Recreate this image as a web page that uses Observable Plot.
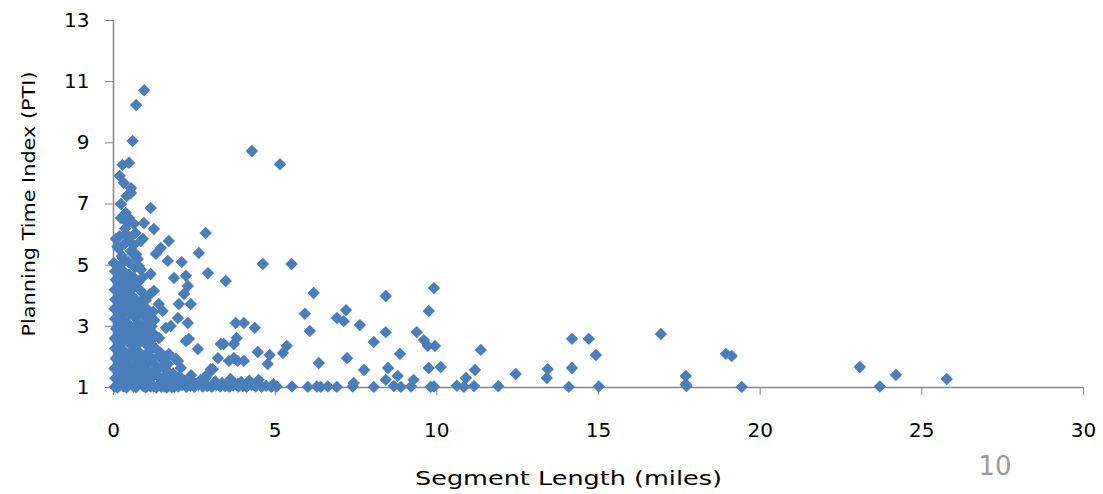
<!DOCTYPE html>
<html>
<head>
<meta charset="utf-8">
<script src="https://cdn.jsdelivr.net/npm/d3@7"></script>
<script src="https://cdn.jsdelivr.net/npm/@observablehq/plot@0.6"></script>
<style>
  html, body { margin: 0; padding: 0; background: #fff; }
  #chart { width: 1103px; height: 494px; }
</style>
</head>
<body>
<div id="chart"></div>
<script>
// Segment length (miles) and Planning Time Index (PTI)
const lengthMiles = [
  // scattered / upper points
  0.95,0.70,0.59,4.28,5.15,0.48,0.28,0.19,0.32,0.54,0.41,0.54,1.15,0.23,0.23,0.38,0.44,0.63,0.94,1.25,
  2.85,0.07,0.38,0.84,0.91,1.71,1.46,1.31,2.64,0.60,0.54,0.29,1.68,2.11,0.01,0.78,4.62,5.51,2.92,3.47,
  2.24,1.87,2.30,1.15,1.25,0.84,6.19,8.42,9.91,2.18,2.02,2.39,1.40,5.92,9.75,6.91,7.19,7.12,7.62,1.52,
  1.99,2.30,3.78,4.03,4.37,1.62,1.77,1.06,6.07,8.42,9.38,9.60,9.72,9.94,8.05,1.25,1.15,2.24,2.33,3.81,
  3.72,3.32,3.41,2.61,1.00,5.36,5.24,4.46,4.83,8.86,11.36,1.46,1.71,1.93,1.62,1.99,3.23,3.72,3.84,4.03,
  3.57,7.22,2.08,1.68,4.77,6.35,3.01,2.92,3.07,1.25,1.46,1.71,2.85,7.75,8.49,9.75,10.12,11.18,8.42,8.79,
  9.28,10.90,7.43,4.49,4.94,12.44,13.43,13.40,14.18,14.18,14.70,14.92,16.93,17.70,17.70,18.94,19.12,23.08,24.20,25.77,
  // points lying near PTI = 1
  5.52,6.01,6.29,6.41,6.63,6.91,7.40,8.05,8.67,8.89,9.20,9.81,9.91,10.62,10.84,11.15,11.90,14.08,15.01,17.72,
  19.43,23.70,
  2.00,2.12,2.25,2.38,2.50,2.63,2.76,2.90,3.04,3.18,3.30,3.45,3.58,3.70,3.86,4.00,4.12,4.27,4.40,4.58,
  4.72,4.88,5.05,2.20,2.48,2.70,3.15,3.36,3.62,3.95,4.20,2.05,2.40,3.85,
  0.12,0.40,0.70,1.00,1.15,1.32,1.48,1.65,1.80,
  // dense cluster of short segments
  0.04,0.06,0.03,0.07,0.05,0.04,0.08,0.05,0.03,0.06,0.04,0.07,0.05,
  0.17,0.20,0.16,0.19,0.21,0.18,0.16,0.20,0.18,0.22,0.17,0.19,0.21,0.16,0.19,
  0.31,0.34,0.32,0.35,0.30,0.33,0.36,0.32,0.34,0.31,0.35,0.33,0.30,0.34,0.36,
  0.47,0.50,0.46,0.49,0.51,0.48,0.46,0.50,0.47,0.49,0.52,0.48,0.46,0.50,0.47,
  0.62,0.65,0.61,0.64,0.66,0.62,0.64,0.67,0.63,0.65,0.61,0.64,0.66,0.62,0.68,
  0.77,0.80,0.76,0.79,0.81,0.78,0.76,0.80,0.82,0.77,0.75,
  0.92,0.95,0.91,0.94,0.96,0.92,0.95,0.93,0.97,0.90,
  1.07,1.10,1.06,1.09,1.12,1.08,1.05,
  1.24,1.27,1.22,1.28,1.26,1.23,
  1.40,1.38,1.42,1.41,
  1.57,1.60,1.55,
  1.74,1.77,
  1.88,1.90,
  1.15,1.32,1.50,1.65,1.85,1.20,1.52,1.02,1.18,0.88,1.00,1.12,0.85,0.70,0.26,0.12
];
const pti = [
  10.72,10.24,9.06,8.73,8.30,8.35,8.28,7.92,7.69,7.52,7.26,7.36,6.87,7.00,6.54,6.71,6.38,6.35,6.38,6.18,
  6.05,5.86,6.02,5.79,5.86,5.79,5.56,5.37,5.40,5.37,5.46,5.23,5.14,5.10,5.07,4.97,5.04,5.04,4.74,4.48,
  4.65,4.58,4.32,4.71,4.16,4.16,4.09,3.99,4.25,4.06,3.73,3.73,3.73,3.41,3.50,3.27,3.53,3.17,3.04,3.50,
  3.27,3.11,3.11,3.11,2.95,2.95,3.01,3.08,2.85,2.81,2.81,2.55,2.36,2.36,2.49,2.75,2.52,2.52,2.59,2.62,
  2.42,2.42,2.42,2.26,2.42,2.36,2.13,2.16,2.06,2.10,2.23,2.13,2.10,1.93,1.96,1.87,1.96,1.96,1.87,1.87,
  1.87,1.96,1.64,1.77,1.77,1.80,1.60,1.44,1.60,1.54,1.31,1.21,1.31,1.57,1.64,1.64,1.67,1.57,1.25,1.38,
  1.25,1.31,1.15,1.25,1.11,1.44,1.60,1.31,2.59,1.64,2.59,2.06,2.75,1.38,1.11,2.10,2.03,1.67,1.41,1.28,
  1.03,1.02,1.03,1.02,1.03,1.02,1.03,1.02,1.05,1.02,1.03,1.02,1.03,1.06,1.02,1.05,1.04,1.02,1.03,1.05,
  1.02,1.03,
  1.03,1.08,1.02,1.06,1.02,1.09,1.03,1.05,1.02,1.08,1.03,1.05,1.02,1.07,1.03,1.05,1.02,1.09,1.03,1.02,
  1.06,1.02,1.03,1.22,1.18,1.25,1.20,1.15,1.28,1.18,1.22,1.35,1.40,1.12,
  1.00,1.00,1.01,1.00,1.03,1.00,1.02,1.00,1.01,
  1.02,1.30,1.62,1.95,2.28,2.60,2.92,3.25,3.57,3.88,4.20,4.52,4.80,
  1.12,1.42,1.75,2.08,2.40,2.72,3.05,3.38,3.70,4.02,4.35,4.68,5.00,5.55,5.95,
  1.04,1.25,1.58,1.90,2.22,2.55,2.88,3.20,3.52,3.85,4.18,4.48,4.82,5.70,6.20,
  1.15,1.45,1.78,2.10,2.42,2.75,3.08,3.40,3.72,4.05,4.38,4.70,5.10,5.90,6.55,
  1.03,1.32,1.65,1.98,2.30,2.62,2.95,3.28,3.60,3.92,4.25,4.58,4.92,5.65,6.05,
  1.18,1.50,1.82,2.15,2.48,2.80,3.12,3.45,3.78,4.45,5.20,
  1.05,1.35,1.68,2.00,2.65,2.98,3.32,3.62,3.95,4.60,
  1.20,1.52,1.85,2.18,2.82,3.38,3.55,
  1.04,1.42,1.80,2.30,3.20,3.48,
  1.10,1.62,2.05,2.62,
  1.03,1.40,1.72,
  1.08,1.35,
  1.02,1.20,
  1.30,1.55,1.25,1.55,1.45,1.95,1.90,2.72,3.00,3.65,3.85,4.05,4.85,5.35,5.30,5.60
];
const xTicks = [0, 5, 10, 15, 20, 25, 30];
const yTicks = [1, 3, 5, 7, 9, 11, 13];
const xTitle = ["Segment Length (miles)"];
const yTitle = ["Planning Time Index (PTI)"];
const pageNumber = ["10"];

const points = lengthMiles.map((x, i) => ({x, y: pti[i]}));
const axisGray = "#868686";

const chart = Plot.plot({
  width: 1103,
  height: 494,
  marginLeft: 113,
  marginRight: 20,
  marginTop: 20,
  marginBottom: 107,
  style: {fontFamily: "'DejaVu Sans', sans-serif", fontSize: "20px", color: "#000", background: "#fff", overflow: "visible"},
  x: {domain: [0, 30]},
  y: {domain: [1, 13]},
  marks: [
    Plot.axisY({ticks: yTicks, tickSize: 8, tickPadding: 16, stroke: axisGray, fill: "#000", label: null, fontSize: 20}),
    Plot.axisX({ticks: xTicks, tickSize: 8, tickPadding: 27, stroke: axisGray, fill: "#000", label: null, fontSize: 20}),
    Plot.ruleX([0], {stroke: axisGray, strokeWidth: 1.5}),
    Plot.ruleY([1], {stroke: axisGray, strokeWidth: 1.5}),
    Plot.dot(points, {x: "x", y: "y", symbol: "diamond2", r: 5.6, fill: "#4a7ebb", stroke: null, clip: false}),
    Plot.text(xTitle, {frameAnchor: "bottom", dx: -30, dy: 97, fontSize: 19, fill: "#000", className: "xtitle"}),
    Plot.text(yTitle, {frameAnchor: "left", textAnchor: "middle", rotate: -90, dx: -84, fontSize: 18, fill: "#000", className: "ytitle"}),
    Plot.text(pageNumber, {frameAnchor: "bottom-right", dx: -72, dy: 87, fontSize: 26, fill: "#999"})
  ]
});
document.getElementById("chart").appendChild(chart);
// widen axis titles to the reference's lengths
d3.select(chart).selectAll(".xtitle text").attr("textLength", 307).attr("lengthAdjust", "spacingAndGlyphs");
d3.select(chart).selectAll(".ytitle text").attr("textLength", 265).attr("lengthAdjust", "spacingAndGlyphs");
</script>
</body>
</html>
